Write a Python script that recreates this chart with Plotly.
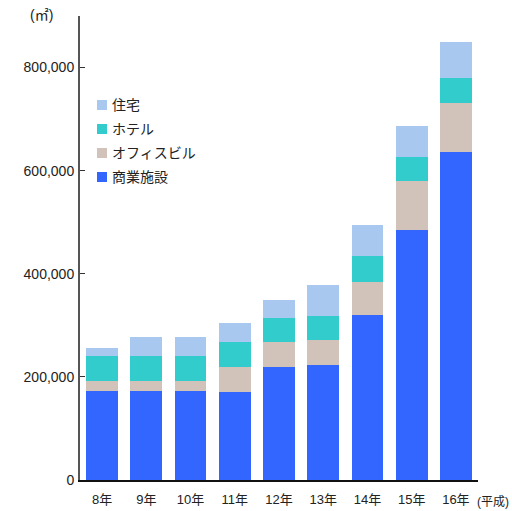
import plotly.graph_objects as go

# Fiscal years (Heisei era)
years = ["8年", "9年", "10年", "11年", "12年", "13年", "14年", "15年", "16年"]

# Floor area by building use (m²)
commercial = [172000, 172000, 172000, 170000, 219000, 223000, 321000, 484000, 637000]
office = [20000, 20000, 20000, 49000, 48000, 48000, 64000, 95000, 95000]
hotel = [48000, 48000, 48000, 48000, 47000, 48000, 49000, 48000, 48000]
housing = [16000, 37000, 37000, 37000, 36000, 60000, 60000, 60000, 70000]

y_ticks = [0, 200000, 400000, 600000, 800000]

series = [
    ("商業施設", commercial, "#3366FF"),
    ("オフィスビル", office, "#D2C3BA"),
    ("ホテル", hotel, "#33CCCC"),
    ("住宅", housing, "#A8C8F0"),
]

font_family = "Liberation Sans, Arial, Noto Sans CJK JP, sans-serif"

fig = go.Figure()
for name, vals, color in series:
    fig.add_trace(go.Bar(
        x=years, y=vals, name=name,
        marker=dict(color=color, line=dict(width=0)),
        showlegend=False,
    ))

# Key: square swatches with labels, top entry is the top of the stack
shapes = []
annotations = []
plot_l, plot_w, plot_b, plot_h = 80, 398, 480, 464
for i, (name, _, color) in enumerate(reversed(series)):
    cy = 105 + 24 * i
    x0 = (97 - plot_l) / plot_w
    x1 = (107 - plot_l) / plot_w
    y0 = (plot_b - (cy + 5)) / plot_h
    y1 = (plot_b - (cy - 5)) / plot_h
    shapes.append(dict(type="rect", xref="paper", yref="paper",
                       x0=x0, x1=x1, y0=y0, y1=y1,
                       fillcolor=color, line=dict(width=0)))
    annotations.append(dict(text=name, xref="paper", yref="paper",
                            x=(110 - plot_l) / plot_w, y=(plot_b - cy) / plot_h,
                            xanchor="left", yanchor="middle", showarrow=False,
                            font=dict(size=14, color="#222222")))

annotations += [
    dict(text="(㎡)", xref="paper", yref="paper", x=(41 - plot_l) / plot_w,
         y=(plot_b - 15) / plot_h, xanchor="center", yanchor="middle",
         showarrow=False, font=dict(size=14)),
    dict(text="(平成)", xref="paper", yref="paper", x=(511 - plot_l) / plot_w,
         y=(plot_b - 502) / plot_h, xanchor="right", yanchor="middle",
         showarrow=False, font=dict(size=12)),
]

fig.update_layout(
    barmode="stack",
    bargap=0.28,
    width=512, height=511,
    margin=dict(l=80, r=34, t=16, b=31),
    paper_bgcolor="white",
    plot_bgcolor="white",
    font=dict(family=font_family, size=13, color="#222222"),
    showlegend=False,
    shapes=shapes,
    annotations=annotations,
    xaxis=dict(
        showline=True, linecolor="#111111", linewidth=2,
        ticks="", showgrid=False,
        tickfont=dict(size=13),
        ticklabelstandoff=6,
        automargin=False,
    ),
    yaxis=dict(
        range=[0, 900000],
        tickvals=y_ticks,
        tickformat=",d",
        showline=True, linecolor="#555555", linewidth=2,
        ticks="inside", ticklen=5, tickcolor="#333333",
        showgrid=False, zeroline=False,
        tickfont=dict(size=14),
        ticklabelstandoff=1,
        automargin=False,
    ),
)

fig.write_html("out.html")
